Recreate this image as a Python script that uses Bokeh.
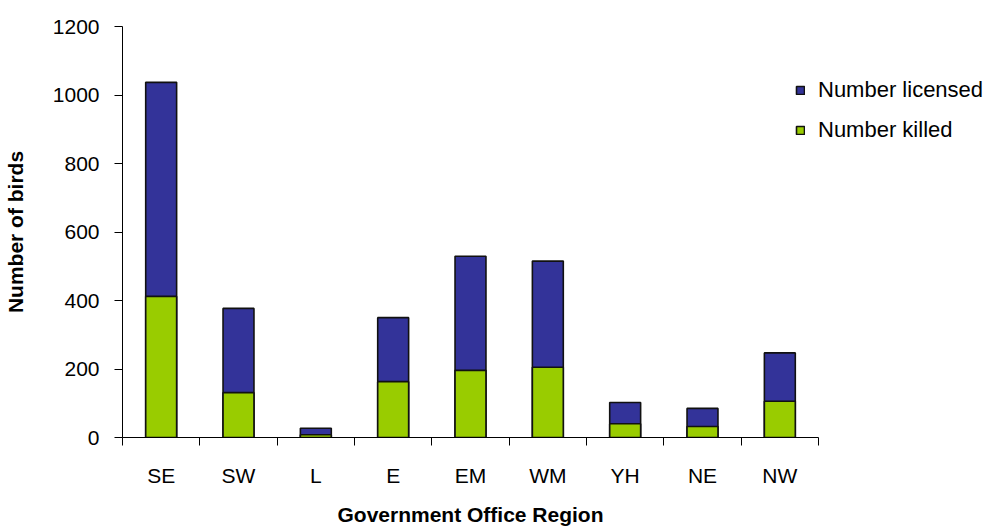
from bokeh.plotting import figure
from bokeh.models import FixedTicker, Legend, LegendItem, Range1d, ColumnDataSource
from bokeh.embed import file_html
from bokeh.resources import INLINE

regions = ["SE", "SW", "L", "E", "EM", "WM", "YH", "NE", "NW"]
licensed = [1037, 377, 27, 350, 529, 515, 102, 85, 247]
killed = [412, 131, 8, 163, 196, 205, 40, 32, 106]
y_ticks = [0, 200, 400, 600, 800, 1000, 1200]

FONT = "Liberation Sans"
FS = "21px"

xs = [i + 0.5 for i in range(len(regions))]
src = ColumnDataSource(dict(x=xs, licensed=licensed, killed=killed))

p = figure(output_backend="svg", toolbar_location=None,
           frame_width=696, frame_height=411,
           x_range=Range1d(0, len(regions)), y_range=Range1d(0, 1200),
           min_border_left=120, min_border_right=0,
           min_border_top=26, min_border_bottom=88)
p.outline_line_color = None
p.grid.grid_line_color = None

r_lic = p.vbar(x="x", top="licensed", bottom=0, width=0.4, source=src,
               fill_color="#333399", line_color="#111111", line_width=1.6)
r_kil = p.vbar(x="x", top="killed", bottom=0, width=0.4, source=src,
               fill_color="#99CC00", line_color="#111111", line_width=1.6)

xa = p.xaxis[0]
xa.ticker = FixedTicker(ticks=xs, minor_ticks=list(range(len(regions) + 1)))
xa.major_label_overrides = {x: r for x, r in zip(xs, regions)}
xa.major_tick_line_color = None
xa.minor_tick_line_color = "black"
xa.minor_tick_out = 8
xa.minor_tick_in = 0
xa.axis_label = "Government Office Region"
xa.major_label_standoff = 18
xa.axis_label_standoff = 13

ya = p.yaxis[0]
ya.ticker = FixedTicker(ticks=y_ticks)
ya.minor_tick_line_color = None
ya.major_tick_out = 8
ya.major_tick_in = 0
ya.axis_label = "Number of birds"
ya.major_label_standoff = 15
ya.axis_label_standoff = 23

for ax in (xa, ya):
    ax.axis_line_color = "black"
    ax.major_label_text_font = FONT
    ax.major_label_text_font_size = FS
    ax.major_label_text_color = "black"
    ax.axis_label_text_font = FONT
    ax.axis_label_text_font_size = FS
    ax.axis_label_text_font_style = "bold"
    ax.axis_label_text_color = "black"

legend = Legend(items=[LegendItem(label="Number licensed", renderers=[r_lic]),
                       LegendItem(label="Number killed", renderers=[r_kil])],
                location=(-23, 294), orientation="vertical",
                glyph_width=10, glyph_height=10, label_standoff=13,
                spacing=14, padding=0, margin=0,
                border_line_color=None, background_fill_alpha=0,
                label_text_font=FONT, label_text_font_size="22px",
                label_text_color="black")
p.add_layout(legend, "right")

open("out.html", "w").write(file_html(p, INLINE))
